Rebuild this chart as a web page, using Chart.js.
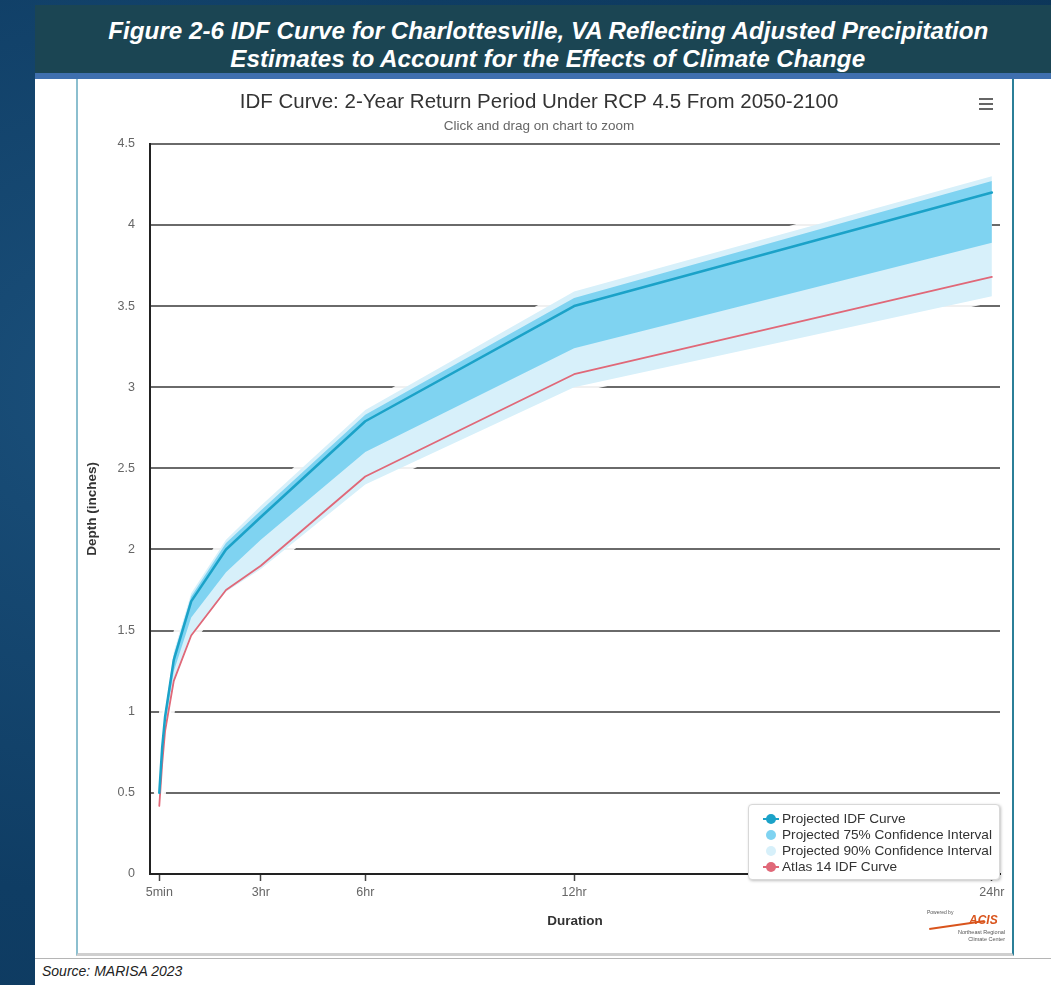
<!DOCTYPE html>
<html>
<head>
<meta charset="utf-8">
<title>IDF Curve - Charlottesville, VA</title>
<script src="https://cdn.jsdelivr.net/npm/chart.js@4.4.1/dist/chart.umd.min.js"></script>
<style>
  body { margin:0; width:1051px; height:985px; overflow:hidden; position:relative;
         background: radial-gradient(circle at 10% 40%, #1a4f7a 0%, #0f3d64 45%, #0c3558 100%);
         font-family: "Liberation Sans", Arial, sans-serif; }
  #header { position:absolute; left:35px; top:5px; width:1016px; height:68px; background:#1b4553;
            border-bottom:6px solid #3f6fae; }
  .hline { position:absolute; left:0; width:1026px; text-align:center; color:#fff;
           font: italic bold 24px "Liberation Sans", Arial, sans-serif; line-height:26px; white-space:nowrap; }
  .hline span { display:inline-block; transform-origin:center; }
  #panel { position:absolute; left:35px; top:79px; width:1016px; height:906px; background:#fff; }
  #frame { position:absolute; left:76px; top:79px; width:934px; height:874px;
           border-left:2px solid #8cbfcf; border-right:2px solid #2b7f98; border-bottom:3px solid #cfcfcf; }
  #source { position:absolute; left:35px; top:958px; width:1009px; height:27px; border-top:1px solid #b5b5b5;
            font: italic 14px "Liberation Sans", Arial, sans-serif; color:#222; padding-left:7px; line-height:25px; }
  #chartWrap { position:absolute; left:78px; top:82px; width:933px; height:873px; }
  #menu { position:absolute; left:979px; top:98px; width:14px; }
  #menu div { height:2px; background:#666; margin-bottom:3px; }
  #legend { position:absolute; left:748px; top:804px; width:250px; height:74px; background:#fff;
            border:1px solid #d8d8d8; border-radius:4px; box-shadow:1px 1px 3px rgba(0,0,0,0.25);
            font: 13px "Liberation Sans", Arial, sans-serif; color:#333; }
  .item { position:absolute; left:14px; height:16px; line-height:16px; white-space:nowrap; }
  .sym { position:absolute; left:0; top:3px; width:16px; height:10px; }
  .sym .ln { position:absolute; left:0; top:4px; width:16px; height:2px; }
  .sym .dot { position:absolute; left:3px; top:0; width:10px; height:10px; border-radius:50%; }
  .item .txt { position:absolute; left:19px; display:inline-block; transform-origin:left center; }
  #logo { position:absolute; left:925px; top:909px; width:82px; height:42px; font-family:"Liberation Sans", Arial, sans-serif; }
</style>
</head>
<body>
<div id="header">
  <div class="hline" style="top:13px"><span id="h1">Figure 2-6 IDF Curve for Charlottesville, VA Reflecting Adjusted Precipitation</span></div>
  <div class="hline" style="top:41px"><span id="h2">Estimates to Account for the Effects of Climate Change</span></div>
</div>
<div id="panel"></div>
<div id="frame"></div>
<div id="chartWrap"><canvas id="idfChart" width="933" height="873"></canvas></div>
<div id="menu"><div></div><div></div><div></div></div>
<div id="legend"></div>
<div id="logo">
  <div style="position:absolute;left:2px;top:0;font-size:5px;color:#555">Powered by</div>
  <div style="position:absolute;left:44px;top:4px;font:italic bold 12px 'Liberation Sans',Arial;color:#d9541c">ACIS</div>
  <div style="position:absolute;left:4px;top:15px;width:56px;height:2px;background:#d9541c;transform:rotate(-8deg)"></div>
  <div style="position:absolute;left:2px;top:20px;width:78px;text-align:right;font-size:5.5px;color:#555;line-height:7px">Northeast Regional<br>Climate Center</div>
</div>
<div id="source">Source: MARISA 2023</div>

<script>
// durations in minutes
const durations = [5, 10, 15, 30, 60, 120, 180, 360, 720, 1440];

// depths (inches)
const projected = [0.50, 0.78, 0.97, 1.32, 1.68, 2.00, 2.20, 2.79, 3.50, 4.20];
const ci75Upper = [0.51, 0.80, 0.99, 1.35, 1.71, 2.04, 2.24, 2.83, 3.55, 4.27];
const ci75Lower = [0.47, 0.74, 0.92, 1.25, 1.58, 1.86, 2.06, 2.60, 3.24, 3.89];
const ci90Upper = [0.52, 0.81, 1.00, 1.37, 1.73, 2.06, 2.27, 2.86, 3.59, 4.30];
const ci90Lower = [0.44, 0.70, 0.87, 1.18, 1.47, 1.74, 1.88, 2.40, 3.00, 3.56];
const atlas14   = [0.42, 0.68, 0.88, 1.19, 1.47, 1.75, 1.90, 2.45, 3.08, 3.68];

const xTickValues = [5, 180, 360, 720, 1440];
const xTickLabels = ['5min', '3hr', '6hr', '12hr', '24hr'];

const seriesLabels = ['Projected IDF Curve', 'Projected 75% Confidence Interval',
                      'Projected 90% Confidence Interval', 'Atlas 14 IDF Curve'];

const TEAL = '#1ba2c8';
const BAND75 = '#7fd3f1';
const BAND90 = '#d7f0fa';
const RED = '#e06878';
const HALO = 'rgba(255,255,255,0.9)';
const FONT = '"Liberation Sans", Arial, sans-serif';

function pts(vals) {
  return durations.map((d, i) => ({ x: d, y: vals[i] }));
}

const ctx = document.getElementById('idfChart');
const chart = new Chart(ctx, {
  type: 'line',
  data: {
    datasets: [
      { label: seriesLabels[0], data: pts(projected), borderColor: TEAL, borderWidth: 2.5, pointRadius: 0, order: 0 },
      { label: seriesLabels[3], data: pts(atlas14), borderColor: RED, borderWidth: 1.8, pointRadius: 0, order: 1 },
      { label: seriesLabels[1], data: pts(ci75Upper), borderWidth: 0, pointRadius: 0, backgroundColor: BAND75, fill: '+1', order: 2 },
      { label: seriesLabels[1] + ' low', data: pts(ci75Lower), borderWidth: 0, pointRadius: 0, order: 3 },
      { label: seriesLabels[2], data: pts(ci90Upper), borderWidth: 0, pointRadius: 0, backgroundColor: BAND90, fill: '+1', order: 4 },
      // lower edge of the 90% band doubles as the soft white halo under the band
      { label: seriesLabels[2] + ' low', data: pts(ci90Lower), borderColor: HALO, borderWidth: 12, pointRadius: 0, order: 5 },
      { label: seriesLabels[2] + ' halo', data: pts(ci90Upper), borderColor: HALO, borderWidth: 12, pointRadius: 0, order: 6 }
    ]
  },
  options: {
    responsive: false,
    animation: false,
    devicePixelRatio: 1,
    layout: { padding: { left: 0, right: 11, top: 0, bottom: 0 } },
    elements: { line: { tension: 0, borderJoinStyle: 'round', borderCapStyle: 'round' } },
    plugins: {
      legend: { display: false },
      tooltip: { enabled: false },
      title: {
        display: true,
        text: 'IDF Curve: 2-Year Return Period Under RCP 4.5 From 2050-2100',
        color: '#333',
        font: { family: FONT, size: 20.5, weight: 'normal' },
        padding: { top: 8, bottom: 2 }
      },
      subtitle: {
        display: true,
        text: 'Click and drag on chart to zoom',
        color: '#666',
        font: { family: FONT, size: 13.5 },
        padding: { top: 2, bottom: 9 }
      }
    },
    scales: {
      x: {
        type: 'linear',
        min: -11,
        max: 1454,
        afterBuildTicks: (scale) => { scale.ticks = xTickValues.map(v => ({ value: v })); },
        afterFit: (scale) => { scale.height = 81; },
        ticks: {
          callback: (v, i) => xTickLabels[i],
          color: '#666',
          font: { family: FONT, size: 12.5 },
          padding: 4,
          maxRotation: 0,
          autoSkip: false
        },
        grid: { drawOnChartArea: false, drawTicks: true, tickLength: 7, tickColor: '#444', tickWidth: 1.5 },
        border: { color: '#222', width: 2 },
        title: {
          display: true, text: 'Duration', color: '#333',
          font: { family: FONT, size: 13.5, weight: 'bold' },
          padding: { top: 0, bottom: 26 }
        }
      },
      y: {
        min: 0,
        max: 4.5,
        afterFit: (scale) => { scale.width = 72; },
        ticks: { stepSize: 0.5, color: '#666', font: { family: FONT, size: 12.5 }, padding: 15,
                 callback: (v) => String(v) },
        grid: { color: '#6a6a6a', lineWidth: 2, drawTicks: false },
        border: { color: '#222', width: 2 },
        title: {
          display: true, text: 'Depth (inches)', color: '#333',
          font: { family: FONT, size: 13.5, weight: 'bold' },
          padding: { top: 6, bottom: 0 }
        }
      }
    }
  }
});

// html legend, built from the series labels and colours
const legendItems = [
  { label: seriesLabels[0], color: TEAL, line: true },
  { label: seriesLabels[1], color: BAND75, line: false },
  { label: seriesLabels[2], color: BAND90, line: false },
  { label: seriesLabels[3], color: RED, line: true }
];
const legendTops = [6, 22, 38, 54];
const legendEl = document.getElementById('legend');
legendItems.forEach((it, i) => {
  const d = document.createElement('div');
  d.className = 'item';
  d.style.top = legendTops[i] + 'px';
  let sym = '<div class="sym">';
  if (it.line) sym += '<div class="ln" style="background:' + it.color + '"></div>';
  sym += '<div class="dot" style="background:' + it.color + '"></div></div>';
  d.innerHTML = sym + '<span class="txt">' + it.label + '</span>';
  legendEl.appendChild(d);
});
// longest legend entry spans about 210px in the original
const spans = legendEl.querySelectorAll('.txt');
const lk = 210 / spans[1].getBoundingClientRect().width;
spans.forEach(s => { s.style.transform = 'scaleX(' + lk + ')'; });

// squeeze header text to the condensed width of the original
const h1 = document.getElementById('h1');
const h2 = document.getElementById('h2');
const k = 880 / h1.getBoundingClientRect().width;
h1.style.transform = 'scaleX(' + k + ')';
h2.style.transform = 'scaleX(' + k + ')';
</script>
</body>
</html>
